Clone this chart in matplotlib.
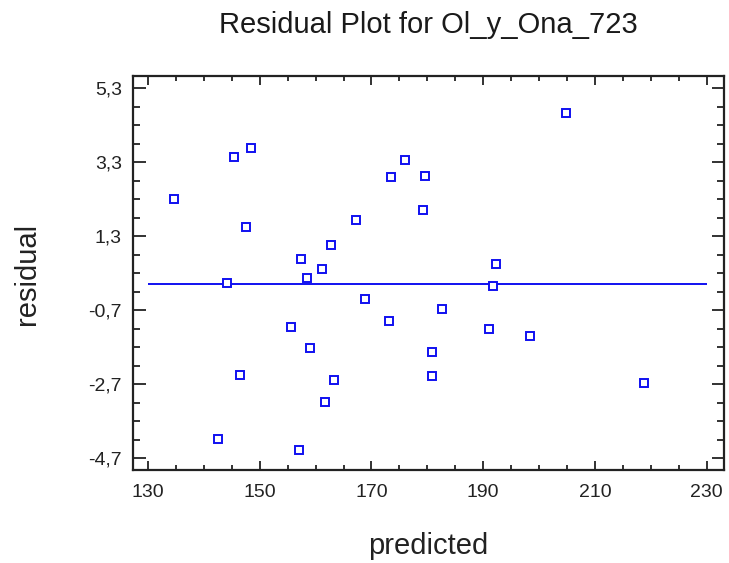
import matplotlib.pyplot as plt
from matplotlib.ticker import MultipleLocator, FixedLocator

plt.rcParams['font.family'] = ['Liberation Sans', 'DejaVu Sans']

# Fitted values and residuals
predicted = [134.6, 145.3, 148.4, 147.5, 162.7, 157.3, 161.2, 176.0, 173.5, 179.6,
             179.3, 167.2, 192.3, 204.9, 158.5, 144.1, 155.6, 159.0, 146.4, 163.3,
             161.7, 142.5, 157.0, 191.8, 168.9, 173.2, 182.6, 191.1, 198.4, 180.9,
             180.9, 218.8]
residual = [2.30, 3.44, 3.68, 1.54, 1.06, 0.68, 0.42, 3.36, 2.89, 2.92,
            2.00, 1.73, 0.54, 4.62, 0.16, 0.04, -1.16, -1.73, -2.46, -2.59,
            -3.19, -4.17, -4.49, -0.04, -0.40, -1.00, -0.67, -1.20, -1.39, -1.84,
            -2.48, -2.66]

x_ticks = [130, 150, 170, 190, 210, 230]
y_ticks = [5.3, 3.3, 1.3, -0.7, -2.7, -4.7]
y_tick_labels = ['5,3', '3,3', '1,3', '-0,7', '-2,7', '-4,7']
zero_line = 0.0

fig = plt.figure(figsize=(7.29, 5.63), dpi=100)
ax = fig.add_axes([0.1824, 0.1652, 0.8107, 0.6998])

blue = '#1010f0'
ax.hlines(zero_line, x_ticks[0], x_ticks[-1], color=blue, linewidth=1.4, zorder=2)
ax.plot(predicted, residual, linestyle='none', marker='s', markersize=5.2,
        markerfacecolor='white', markeredgecolor=blue, markeredgewidth=1.4, zorder=3)

ax.set_xlim(127.3, 233.1)
ax.set_ylim(-5.02, 5.63)

ax.xaxis.set_major_locator(FixedLocator(x_ticks))
ax.xaxis.set_minor_locator(MultipleLocator(5))
ax.yaxis.set_major_locator(FixedLocator(y_ticks))
ax.yaxis.set_minor_locator(FixedLocator([v / 10 for v in range(-47, 54, 5)]))
ax.set_yticklabels(y_tick_labels)

ax.tick_params(axis='both', which='both', direction='in', top=True, right=True,
               colors='#222222', width=1.3, labelsize=14, labelcolor='#222222')
ax.tick_params(axis='x', which='major', length=6.5, pad=10)
ax.tick_params(axis='x', which='minor', length=3.5)
ax.tick_params(axis='y', which='major', length=9, pad=8)
ax.tick_params(axis='y', which='minor', length=5)

for sp in ax.spines.values():
    sp.set_linewidth(1.6)
    sp.set_color('#222222')

fig.text(0.588, 0.941, 'Residual Plot for Ol_y_Ona_723', ha='center', va='baseline',
         fontsize=21, color='#1a1a1a')
fig.text(0.588, 0.016, 'predicted', ha='center', va='baseline', fontsize=21, color='#222222')
fig.text(0.037, 0.513, 'residual', ha='center', va='center', rotation=90,
         fontsize=21, color='#222222')

fig.savefig('out.png', dpi=100)
